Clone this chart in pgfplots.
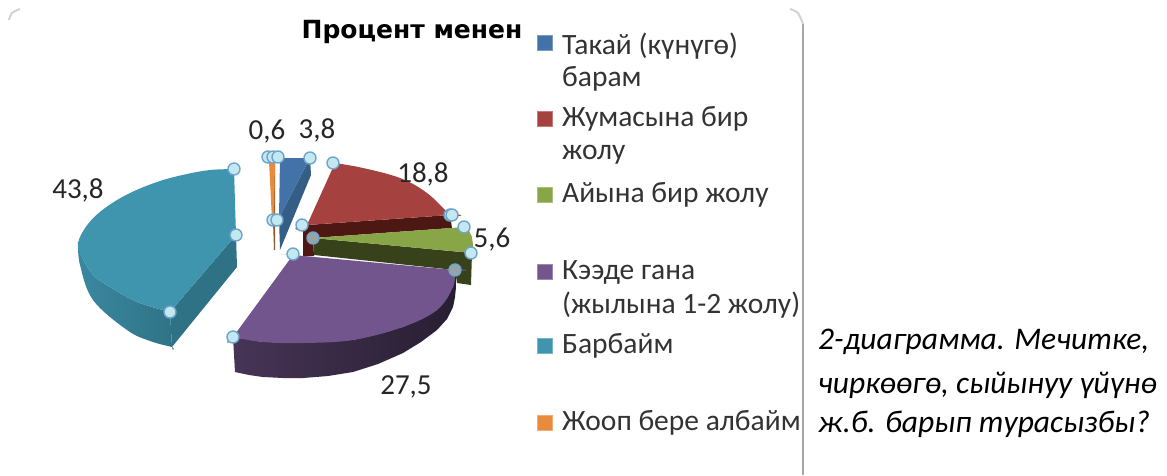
\documentclass[border=0pt]{standalone}
\usepackage{pgfplots}
\pgfplotsset{compat=1.18}
\usepackage{fontspec}
\setmainfont{Carlito}
\newfontfamily\titlefont{DejaVu Sans}
\definecolor{bluet}{HTML}{4272A8}\definecolor{blues}{HTML}{355E87}
\definecolor{redt}{HTML}{A5423F}\definecolor{reds}{HTML}{4D1714}
\definecolor{greent}{HTML}{88A548}\definecolor{greens}{HTML}{38421A}
\definecolor{purpt}{HTML}{72558C}
\definecolor{tealt}{HTML}{3F94AE}\definecolor{tealr}{HTML}{2F7285}
\definecolor{oranget}{HTML}{E88B3C}\definecolor{oranges}{HTML}{8A5A30}
\definecolor{hfill}{HTML}{C4E8F0}\definecolor{hdraw}{HTML}{6FA5CC}
\begin{document}
\begin{tikzpicture}
\begin{axis}[hide axis,scale only axis,width=1167pt,height=475pt,
  xmin=0,xmax=1167,ymin=0,ymax=475,y dir=reverse,clip=true]
% frame
\addplot[draw=gray!70,line width=1.6pt] coordinates {(803,24)(803,475)};
\addplot[draw=gray!35,line width=2pt,smooth] coordinates {(790,9)(798,13)(803,24)};
\addplot[draw=gray!35,line width=2pt,smooth] coordinates {(9,20)(12,13)(20,9)};
% teal
\addplot[draw=none,left color=tealt!92!black,right color=tealr,smooth,tension=0.6] coordinates {
 (78,243)(78,243)(80,265)(93,300)(127,330)(150,341)(172,347)(172,347)(170,312)(170,312)(137,302)(110,287)(93,275)(82,257)(78,243)(78,243)};
\addplot[draw=none,fill=tealr] coordinates {(170,312)(172,347)(237,267)(236,235)};
\addplot[draw=none,fill=tealt,smooth,tension=0.6] coordinates {
 (234,169)(234,169)(210,170)(187,174)(160,181)(130,193)(105,208)(88,224)(78,243)(82,257)(93,275)(110,287)(137,302)(170,312)(170,312)(236,235)(236,235)(234,169)(234,169)};
% orange
\addplot[draw=none,fill=oranges] coordinates {(271,163)(275,163)(275,250)(274,250)};
\addplot[draw=none,fill=oranget] coordinates {(269,161)(275,161)(274,220)(272,220)};
% blue
\addplot[draw=none,fill=blues] coordinates {(310,158)(311,175)(280,250)(279,218)};
\addplot[draw=none,fill=bluet] coordinates {(280,158)(310,158)(279,218)};
% red
\addplot[draw=none,fill=reds] coordinates {(307,225)(450,215)(452,228)(313,238)(314,256)(303,256)(303,228)};
\addplot[draw=none,fill=redt,smooth,tension=0.6] coordinates {
 (335,163)(335,163)(363,168)(400,178)(427,193)(450,215)(450,215)(307,225)(307,225)(335,163)(335,163)};
% green
\addplot[draw=none,fill=greens] coordinates {(313,238)(472,253)(471,285)(457,283)(455,270)(314,255)};
\addplot[draw=none,fill=greent] coordinates {
 (313,238)(465,227)(469,231)(472,237)(473,245)(472,253)};
% purple
\addplot[draw=none,left color=purpt!62!black,right color=purpt!35!black] coordinates {
 (233,337)(235,372)(249,375)(263,377)(283,378)(303,378)(328,376)(353,372)(378,364)(403,353)(421,342)(437,330)(447,319)(453,307)(455,297)(456,287)(456,270)(453,287)(437,310)(403,327)(353,340)(303,343)(263,342)};
\addplot[draw=none,fill=purpt,smooth,tension=0.6] coordinates {
 (293,255)(293,255)(455,270)(455,270)(453,287)(437,310)(403,327)(353,340)(303,343)(263,342)(233,337)(233,337)(293,255)(293,255)};
% handles
\addplot[only marks,mark=*,mark size=6pt,mark options={fill=hfill,draw=hdraw,line width=1.4pt}] coordinates {
 (234,169)(236,235)(170,312)(268,157)(273,157)(278,157)(310,158)(273,220)(277,220)(333,163)(302,225)(450,215)(452,215)(464,227)(471,253)(293,254)(233,337)};
\addplot[only marks,mark=*,mark size=6pt,mark options={fill=gray!65!hfill,draw=hdraw,line width=1.4pt}] coordinates {(313,238)(455,270)};
% legend swatches
\addplot[only marks,mark=square*,mark size=7.5pt,mark options={fill=bluet,draw=bluet!70!white}] coordinates {(545,43)};
\addplot[only marks,mark=square*,mark size=7.5pt,mark options={fill=redt,draw=redt!70!white}] coordinates {(545,119)};
\addplot[only marks,mark=square*,mark size=7.5pt,mark options={fill=greent,draw=greent!70!white}] coordinates {(545,195)};
\addplot[only marks,mark=square*,mark size=7.5pt,mark options={fill=purpt,draw=purpt!70!white}] coordinates {(545,272)};
\addplot[only marks,mark=square*,mark size=7.5pt,mark options={fill=tealt,draw=tealt!70!white}] coordinates {(545,346)};
\addplot[only marks,mark=square*,mark size=7.5pt,mark options={fill=oranget,draw=oranget!70!white}] coordinates {(545,423)};
% value labels
\def\lab{\fontsize{29}{32}\selectfont}
\node[font=\lab,text=black!85,inner sep=0] at (axis cs:267,132) {0,6};
\node[font=\lab,text=black!85,inner sep=0] at (axis cs:317,130) {3,8};
\node[font=\lab,text=black!85,inner sep=0] at (axis cs:423,174) {18,8};
\node[font=\lab,text=black!85,inner sep=0] at (axis cs:492,240) {5,6};
\node[font=\lab,text=black!85,inner sep=0] at (axis cs:406,387) {27,5};
\node[font=\lab,text=black!85,inner sep=0] at (axis cs:78,190) {43,8};
% title
\node[font=\titlefont\bfseries\fontsize{25}{29}\selectfont,inner sep=0] at (axis cs:412,32) {Процент менен};
% legend text
\def\leg{\fontsize{29.5}{32}\selectfont}
\node[font=\leg,text=black!80,anchor=west,inner sep=0] at (axis cs:562,46) {Такай (күнүгө)};
\node[font=\leg,text=black!80,anchor=west,inner sep=0] at (axis cs:562,79) {барам};
\node[font=\leg,text=black!80,anchor=west,inner sep=0] at (axis cs:562,119) {Жумасына бир};
\node[font=\leg,text=black!80,anchor=west,inner sep=0] at (axis cs:562,155) {жолу};
\node[font=\leg,text=black!80,anchor=west,inner sep=0] at (axis cs:562,195) {Айына бир жолу};
\node[font=\leg,text=black!80,anchor=west,inner sep=0] at (axis cs:562,272) {Кээде гана};
\node[font=\leg,text=black!80,anchor=west,inner sep=0] at (axis cs:562,305) {(жылына 1-2 жолу)};
\node[font=\leg,text=black!80,anchor=west,inner sep=0] at (axis cs:562,346) {Барбайм};
\node[font=\leg,text=black!80,anchor=west,inner sep=0] at (axis cs:562,423) {Жооп бере албайм};
% caption
\def\cap{\itshape\fontsize{31.5}{35}\selectfont}
\node[font=\cap,anchor=west,inner sep=0] at (axis cs:818,342) {2-диаграмма. Мечитке,};
\node[font=\cap,anchor=west,inner sep=0] at (axis cs:818,385) {чиркөөгө, сыйынуу үйүнө};
\node[font=\cap,anchor=west,inner sep=0] at (axis cs:818,424) {ж.б. барып турасызбы?};
\end{axis}
\path[use as bounding box] (0,0) rectangle (1167pt,475pt);
\end{tikzpicture}
\end{document}
